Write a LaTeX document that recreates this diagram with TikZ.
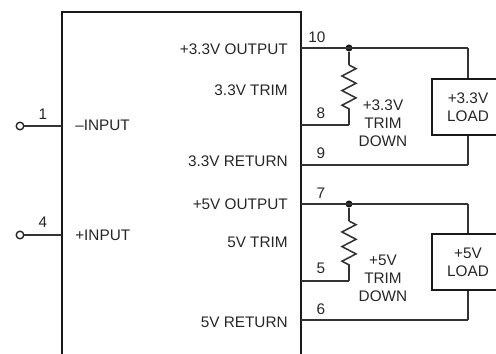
\documentclass[tikz,border=0pt]{standalone}
\usepackage{fontspec}
\setmainfont{Liberation Sans}
\usepackage{tikz}
\usetikzlibrary{decorations.pathmorphing}

\begin{document}
\begin{tikzpicture}
[x=.025cm,y=-.025cm]
\tikzset{txt/.style={font=\fontsize{10.9}{12.9}\selectfont,inner sep=0pt,align=center,text=black!85}}
\tikzset{pin/.style={draw=black!80,line width=1.1pt}}
\tikzset{term/.style={circle,draw=black!85,line width=1pt,fill=white,inner sep=0pt,minimum size=5.4pt}}
\tikzset{junc/.style={circle,fill=black!90,inner sep=0pt,minimum size=5pt}}
\tikzset{loadbox/.style={draw=black!90,line width=2pt,minimum width=.025cm*72,minimum height=.025cm*56,txt}}
\tikzset{res/.style={pin,decorate,decoration={zigzag,segment length=10.4pt,amplitude=5pt}}}
\useasboundingbox (0,0) rectangle (496,354);

% module outline
\draw [black!90,line width=1.9pt] (62,354) -- (62,12) -- (301,12) -- (301,354);

% inputs
\node [term] (t1) at (20,126) {};
\node [term] (t4) at (20,235) {};
\coordinate (a1) at (62,126);
\coordinate (a4) at (62,235);
\node [txt] (l1) at (43,114) {1};
\node [txt] (l4) at (43,222) {4};
\node [txt,anchor=west] (in1) at (75,125.5) {--INPUT};
\node [txt,anchor=west] (in4) at (75,235) {+INPUT};

% pin labels inside the module
\node [txt,anchor=east] (s1) at (288,49) {+3.3V OUTPUT};
\node [txt,anchor=east] (s2) at (288,90) {3.3V TRIM};
\node [txt,anchor=east] (s3) at (288,161) {3.3V RETURN};
\node [txt,anchor=east] (s4) at (288,204) {+5V OUTPUT};
\node [txt,anchor=east] (s5) at (288,242) {5V TRIM};
\node [txt,anchor=east] (s6) at (288,322) {5V RETURN};

% pins
\coordinate (p10) at (301,48);
\coordinate (p8) at (301,125);
\coordinate (p9) at (301,165);
\coordinate (p7) at (301,204);
\coordinate (p5) at (301,281);
\coordinate (p6) at (301,320);
\node [txt] (l10) at (317,37) {10};
\node [txt] (l8) at (321,113) {8};
\node [txt] (l9) at (321,153) {9};
\node [txt] (l7) at (321,193) {7};
\node [txt] (l5) at (321,268) {5};
\node [txt] (l6) at (321,309) {6};

% trim branches
\node [junc] (j1) at (349,48) {};
\node [junc] (j2) at (349,204) {};
\coordinate (b1) at (349,125);
\coordinate (b2) at (349,281);
\coordinate (r1a) at (349,65);
\coordinate (r1b) at (349,109);
\coordinate (r2a) at (349,221);
\coordinate (r2b) at (349,265);
\node [txt] (d1) at (383,123) {+3.3V\\TRIM\\DOWN};
\node [txt] (d2) at (383,278) {+5V\\TRIM\\DOWN};

% loads
\node [loadbox] (load1) at (468,107) {+3.3V\\LOAD};
\node [loadbox] (load2) at (468,262) {+5V\\LOAD};
\coordinate (c1) at (468,48);
\coordinate (c2) at (468,165);
\coordinate (c3) at (468,204);
\coordinate (c4) at (468,320);

\foreach \from/\to in {t1/a1,t4/a4,p10/c1,p8/b1,p9/c2,p7/c3,p5/b2,p6/c4,j1/r1a,b1/r1b,j2/r2a,b2/r2b,c1/load1,c2/load1,c3/load2,c4/load2}
	\draw [pin] (\from) -- (\to);
\foreach \from/\to in {r1a/r1b,r2a/r2b}
	\draw [res] (\from) -- (\to);
\end{tikzpicture}
\end{document}
